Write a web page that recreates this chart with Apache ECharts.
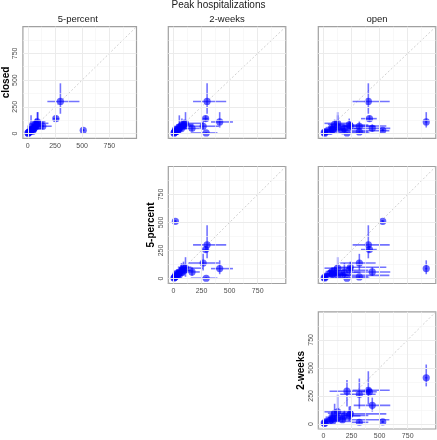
<!DOCTYPE html>
<html><head><meta charset="utf-8">
<script src="https://cdn.jsdelivr.net/npm/echarts@6/dist/echarts.min.js"></script>
<style>html,body{margin:0;padding:0;background:#fff}#c{width:437px;height:440px}</style>
</head><body><div id="c"></div>
<script>
// ---- data (peak hospitalizations per scenario: median, lower, upper) ----
const closedMid  = [300, 30, 108, 139,   5,  68,  48,  95,  80,  46,  15,  60, 10, 18, 35, 25, 55, 40,  70,  3, 20,  85];
const closedLow  = [185, 20,  56, 112,   0,  38,  20,  40,  45,  25,   5,  30,  2,  8, 15, 10, 30, 20,  40,  0,  8,  50];
const closedHigh = [470, 42, 200, 168,  14, 112,  85, 200, 140,  75,  28, 170, 20, 30, 60, 45, 90, 70, 110, 10, 40, 130];
const fiveMid    = [300, 510,  88, 258,   2, 138,  58,  92,  74,  55,  14,  30,  8, 20, 40, 28, 62, 35, 100,  4, 45,  70];
const fiveLow    = [180, 498,  38, 232,   0,  72,  22,  15,  40,  25,   4,  10,  2,  8, 15, 10, 30, 15,  60,  0, 20,  30];
const fiveHigh   = [475, 522, 162, 290,  10, 220, 100, 190, 112, 137,  26,  60, 18, 35, 70, 50, 100, 60, 150, 12, 80, 105];
const twoMid     = [300, 18, 412, 287, 292, 265, 166, 108,  76,  72,  15,  53,  9, 22, 45, 38, 60, 23,  90,  6, 30,  95];
const twoLow     = [175,  8, 335, 262, 155, 135, 110,  50,  25,  30,   5,  20,  2, 10, 20, 15, 25,  8,  40,  0, 10,  40];
const twoHigh    = [470, 30, 530, 312, 392, 405, 235, 262, 155, 120,  30, 100, 20, 40, 80, 70, 110, 45, 160, 15, 60, 180];
const openMid    = [400, 528, 915, 410, 210, 320, 435, 127, 230, 187, 320, 127,  8, 25, 80, 170, 77, 83, 240, 12, 60, 100];
const openLow    = [260, 515, 905, 335,  55, 150, 270,  10,  90,  60, 250,  40,  2, 10, 20, 20, 20, 10, 120,  2, 15,  40];
const openHigh   = [590, 542, 925, 475, 410, 465, 595, 262, 400, 330, 400, 240, 16, 45, 180, 587, 160, 250, 560, 30, 140, 190];

const scenarioNames = ['closed', '5-percent', '2-weeks', 'open'];
const tickValues = [0, 250, 500, 750];
const minorValues = [125, 375, 625, 875];
const axisMin = -45, axisMax = 1000;

const scen = {
  'closed':    [closedMid, closedLow, closedHigh],
  '5-percent': [fiveMid, fiveLow, fiveHigh],
  '2-weeks':   [twoMid, twoLow, twoHigh],
  'open':      [openMid, openLow, openHigh]
};
const rowNames = ['closed', '5-percent', '2-weeks'];
const colNames = ['5-percent', '2-weeks', 'open'];

// ---- layout ----
const colLeft = [19, 168.3, 318.3], colWidth = 117.5;
const rowTop = [26.7, 166.5, 311.8], rowHeight = [111.6, 117, 118];

const FONT = 'Liberation Sans, Arial, sans-serif';

const grids = [], xAxes = [], yAxes = [], series = [];
let k = 0;
for (let r = 0; r < 3; r++) {
  for (let c = r; c < 3; c++) {
    const showAxis = (c === r);
    grids.push({left: colLeft[c], top: rowTop[r], width: colWidth, height: rowHeight[r],
      show: true, borderColor: '#a0a0a0', borderWidth: 1.2, backgroundColor: '#fff'});
    const axisCommon = {
      type: 'value', gridIndex: k, min: axisMin, max: axisMax,
      axisLine: {show: false}, splitLine: {show: false},
      axisTick: {show: showAxis, length: 2.5, customValues: tickValues, lineStyle: {color: '#555', width: 0.8}},
      axisLabel: {show: showAxis, customValues: tickValues, fontSize: 7, color: '#4d4d4d', fontFamily: FONT, margin: 4}
    };
    xAxes.push(Object.assign({}, axisCommon));
    yAxes.push(Object.assign({}, axisCommon, {
      axisLabel: Object.assign({}, axisCommon.axisLabel, {rotate: 90}),
      name: showAxis ? rowNames[r] : '', nameLocation: 'middle', nameGap: 10.5, nameRotate: 90,
      nameTextStyle: {fontSize: 10, fontWeight: 'bold', color: '#000', fontFamily: FONT}
    }));
    const xs = scen[colNames[c]], ys = scen[rowNames[r]];
    const gl = [];
    minorValues.forEach(v => {
      gl.push({xAxis: v, lineStyle: {color: '#f3f3f3', width: 0.6, type: 'solid'}});
      gl.push({yAxis: v, lineStyle: {color: '#f3f3f3', width: 0.6, type: 'solid'}});
    });
    tickValues.forEach(v => {
      gl.push({xAxis: v, lineStyle: {color: '#ebebeb', width: 1, type: 'solid'}});
      gl.push({yAxis: v, lineStyle: {color: '#ebebeb', width: 1, type: 'solid'}});
    });
    series.push({
      type: 'line', xAxisIndex: k, yAxisIndex: k, z: 1, silent: true, animation: false,
      data: [[axisMin, axisMin], [axisMax, axisMax]], showSymbol: false,
      lineStyle: {color: '#c4c4c4', width: 0.8, type: [2, 2]},
      markLine: {silent: true, symbol: ['none', 'none'], label: {show: false}, animation: false,
        lineStyle: {type: 'solid'}, data: gl}
    });
    const ebData = xs[0].map((_, i) => [xs[0][i], ys[0][i], xs[1][i], xs[2][i], ys[1][i], ys[2][i]]);
    series.push({
      type: 'custom', xAxisIndex: k, yAxisIndex: k, z: 3, silent: true, animation: false,
      encode: {x: 0, y: 1}, data: ebData,
      renderItem: function (params, api) {
        const x = api.value(0), y = api.value(1);
        const p = api.coord([x, y]);
        const a = api.coord([api.value(2), y]), b = api.coord([api.value(3), y]);
        const d = api.coord([x, api.value(4)]), e = api.coord([x, api.value(5)]);
        const st = {stroke: 'rgba(0,0,255,0.55)', fill: null, lineWidth: 1.6};
        return {type: 'group', children: [
          {type: 'line', shape: {x1: a[0], y1: a[1], x2: b[0], y2: b[1]}, style: st},
          {type: 'line', shape: {x1: d[0], y1: d[1], x2: e[0], y2: e[1]}, style: st},
          {type: 'circle', shape: {cx: p[0], cy: p[1], r: 3.6}, style: {fill: 'rgba(0,0,255,0.6)', stroke: null, lineWidth: 0}}
        ]};
      }
    });
    k++;
  }
}

const graphics = [
  {type: 'text', x: 218.5, y: 5, style: {text: 'Peak hospitalizations', fontSize: 10, fill: '#1a1a1a', fontFamily: FONT, align: 'center', verticalAlign: 'middle'}}
];
colNames.forEach((n, c) => graphics.push({type: 'text', x: colLeft[c] + colWidth / 2, y: 19.5,
  style: {text: n, fontSize: 9.5, fill: '#1a1a1a', fontFamily: FONT, align: 'center', verticalAlign: 'middle'}}));

const chart = echarts.init(document.getElementById('c'), null, {renderer: 'canvas'});
chart.setOption({
  animation: false,
  backgroundColor: '#fff',
  grid: grids, xAxis: xAxes, yAxis: yAxes, series: series,
  graphic: graphics
});
</script></body></html>
